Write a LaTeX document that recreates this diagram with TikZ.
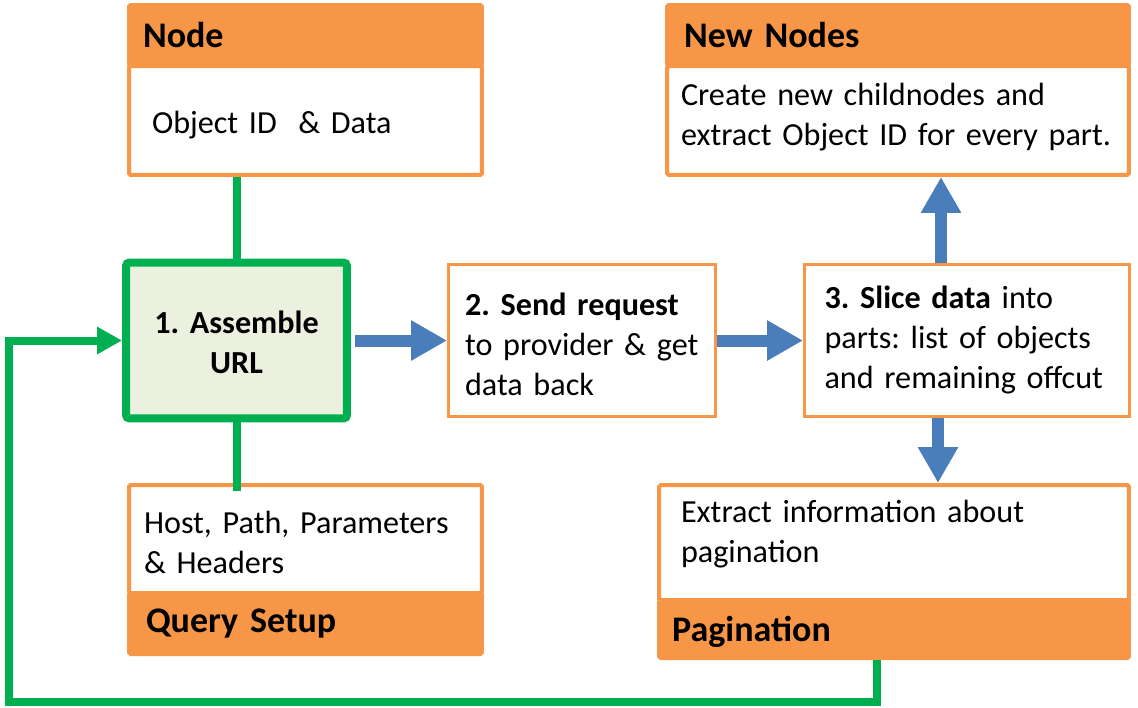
\documentclass[tikz,border=0pt]{standalone}
\usepackage{fontspec}
\setmainfont{Carlito}
\usetikzlibrary{arrows.meta}
\definecolor{boxorange}{HTML}{F79646}
\definecolor{linkgreen}{HTML}{00B050}
\definecolor{flowblue}{HTML}{4A7EBB}
\definecolor{stepfill}{HTML}{EBF1DE}
\begin{document}
\frenchspacing
\begin{tikzpicture}[x=0.02cm, y=-0.02cm,
    every node/.style={font=\fontsize{18.3}{22.8}\selectfont, align=left, inner xsep=0pt, inner ysep=0pt},
    head/.style={fill=boxorange, draw=boxorange, line width=0.08cm, rounded corners=1pt, font=\fontsize{20.5}{22.8}\selectfont\bfseries, text depth=0pt},
    body/.style={fill=white, draw=boxorange, line width=0.08cm, rounded corners=1pt},
    stepbox/.style={fill=white, draw=boxorange, line width=0.06cm},
    flow/.style={draw=flowblue, line width=0.24cm, -{Triangle[length=0.72cm, width=0.76cm]}},
    link/.style={draw=linkgreen, line width=0.16cm}]
                \useasboundingbox (0,0) rectangle (1138,707);

                \node[body, minimum width=7.06cm, minimum height=2.18cm, text width=6.14cm, text height=0.5cm, text depth=0pt] (nodebody) at (305.5,120.5) {Object ID~ \& Data};
                \node[head, minimum width=7.06cm, minimum height=1.22cm, text width=6.5cm, text height=0.46cm] (nodehead) at (305.5,35.5) {Node};
                \node[body, minimum width=7.06cm, minimum height=2.16cm, text width=6.46cm, text height=0pt, text depth=0.24cm] (querybody) at (305.5,539) {Host, Path, Parameters\\ \& Headers};
                \node[head, minimum width=7.06cm, minimum height=1.22cm, text width=6.38cm, text height=0.34cm] (queryhead) at (305.5,623.5) {Query Setup};
                \node[body, minimum width=9.24cm, minimum height=2.18cm, text width=8.68cm, text height=0pt, text depth=0.62cm] (newbody) at (898,120.5) {Create new childnodes and\\ extract Object ID for every part.};
                \node[head, minimum width=9.24cm, minimum height=1.22cm, text width=8.56cm, text height=0.46cm] (newhead) at (898,35.5) {New Nodes};
                \node[body, minimum width=9.4cm, minimum height=2.3cm, text width=8.52cm, text height=0pt, text depth=0.82cm] (pagebody) at (894,542.5) {Extract information about\\ pagination};
                \node[head, minimum width=9.4cm, minimum height=1.16cm, text width=8.88cm, text height=0.48cm] (pagehead) at (894,629) {Pagination};

                \node[draw=linkgreen, fill=stepfill, line width=0.16cm, rounded corners=2pt, align=center, font=\fontsize{18.3}{22.8}\selectfont\bfseries, minimum width=4.42cm, minimum height=3.12cm, text width=4.42cm, text height=0pt, text depth=0.3cm] (assemble) at (236.5,340.5) {1. Assemble\\ URL};
                \node[stepbox, minimum width=5.34cm, minimum height=3.06cm, text width=4.68cm, text height=0pt, text depth=1.02cm] (send) at (582,340.5) {\textbf{2. Send request}\\ to provider \& get\\ data back};
                \node[stepbox, minimum width=6.5cm, minimum height=3.06cm, text width=5.7cm, text height=0pt, text depth=1.3cm] (slice) at (967,340.5) {\textbf{3. Slice data} into\\ parts: list of objects\\ and remaining offcut};

                \coordinate (upx) at (941,0); \coordinate (downx) at (938,0);
                \coordinate (loopr) at (876.5,702); \coordinate (loopl) at (9,702);

                \draw[link] (nodebody.south -| assemble.north) -- (assemble.north);
                \draw[link, shorten >=-0.16cm] (assemble.south) -- (querybody.north -| assemble.south);
                \draw[link, -{Triangle[length=0.5cm, width=0.52cm]}] (pagehead.south -| loopr) -- (loopr) -- (loopl) |- (assemble.west);

                \draw[flow, shorten <=0.08cm] (assemble.east) -- (send.west);
                \draw[flow] (send.east) -- (slice.west);
                \draw[flow] (slice.north -| upx) -- (newbody.south -| upx);
                \draw[flow] (slice.south -| downx) -- (pagebody.north -| downx);
            \end{tikzpicture}
\end{document}
